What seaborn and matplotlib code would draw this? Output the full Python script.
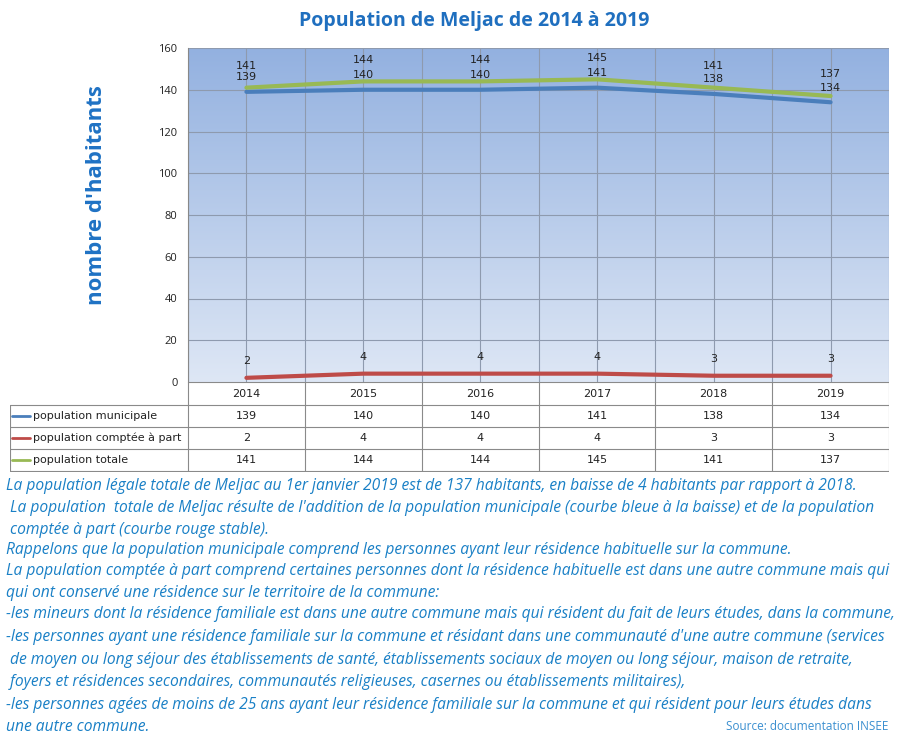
import numpy as np
import pandas as pd
import matplotlib
matplotlib.use('Agg')
import matplotlib.pyplot as plt
import seaborn as sns

# Data
years = ['2014', '2015', '2016', '2017', '2018', '2019']
pop_municipale = [139, 140, 140, 141, 138, 134]
pop_a_part = [2, 4, 4, 4, 3, 3]
pop_totale = [141, 144, 144, 145, 141, 137]
series_names = ['population municipale', 'population comptée à part', 'population totale']
series_colors = ['#4a7ebb', '#be4b48', '#98b954']
y_ticks = [0, 20, 40, 60, 80, 100, 120, 140, 160]

title = 'Population de Meljac de 2014 à 2019'
y_label = "nombre d'habitants"
notes = [
    "La population légale totale de Meljac au 1er janvier 2019 est de 137 habitants, en baisse de 4 habitants par rapport à 2018.",
    " La population  totale de Meljac résulte de l'addition de la population municipale (courbe bleue à la baisse) et de la population",
    " comptée à part (courbe rouge stable).",
    "Rappelons que la population municipale comprend les personnes ayant leur résidence habituelle sur la commune.",
    "La population comptée à part comprend certaines personnes dont la résidence habituelle est dans une autre commune mais qui",
    "qui ont conservé une résidence sur le territoire de la commune:",
    "-les mineurs dont la résidence familiale est dans une autre commune mais qui résident du fait de leurs études, dans la commune,",
    "-les personnes ayant une résidence familiale sur la commune et résidant dans une communauté d'une autre commune (services",
    " de moyen ou long séjour des établissements de santé, établissements sociaux de moyen ou long séjour, maison de retraite,",
    " foyers et résidences secondaires, communautés religieuses, casernes ou établissements militaires),",
    "-les personnes agées de moins de 25 ans ayant leur résidence familiale sur la commune et qui résident pour leurs études dans",
    "une autre commune.",
]
source = 'Source: documentation INSEE'

sns.set_style('white')
plt.rcParams['font.family'] = ['Open Sans', 'DejaVu Sans']

W, H = 900, 742
fig = plt.figure(figsize=(W / 100, H / 100), dpi=100)


def frac(x0, y0, x1, y1):
    # pixel box (top-left origin) -> figure fraction rect
    return [x0 / W, 1 - y1 / H, (x1 - x0) / W, (y1 - y0) / H]


# main plot area with the blue gradient background
ax = fig.add_axes(frac(188, 48, 889, 382))
grad = np.linspace(0, 1, 256).reshape(-1, 1)
top_c = np.array([0x93, 0xb1, 0xe0]) / 255
bot_c = np.array([0xde, 0xe7, 0xf5]) / 255
img = top_c * (1 - grad)[..., None] + bot_c * grad[..., None]
ax.imshow(img, extent=[-0.5, len(years) - 0.5, 0, 160], aspect='auto', zorder=0,
          origin='upper')

df = pd.DataFrame({
    'x': list(range(len(years))) * 3,
    'valeur': pop_municipale + pop_a_part + pop_totale,
    'serie': [s for s in series_names for _ in years],
})
sns.lineplot(data=df, x='x', y='valeur', hue='serie', hue_order=series_names,
             palette=series_colors, linewidth=3, legend=False, ax=ax, zorder=3)

# data labels (total a bit higher than municipal so they stack)
label_offsets = [10.5, 12, 15.5]
for vals, off in zip([pop_municipale, pop_a_part, pop_totale], label_offsets):
    for i, v in enumerate(vals):
        ax.annotate(str(v), (i, v), xytext=(0, off), textcoords='offset points',
                    ha='center', va='center', fontsize=8, color='#222222',
                    family='DejaVu Sans', zorder=4)

ax.set_xlim(-0.5, len(years) - 0.5)
ax.set_ylim(0, 160)
ax.set_yticks(y_ticks)
ax.set_xticks(np.arange(-0.5, len(years), 0.5))
ax.set_xticklabels([])
ax.tick_params(axis='x', length=0)
ax.tick_params(axis='y', length=4, color='#888888', labelsize=8, labelcolor='#222222')
ax.grid(True, color='#8e9aae', linewidth=0.8)
ax.set_axisbelow('line')
ax.set_xlabel('')
ax.set_ylabel('')
for side in ['top', 'right', 'bottom']:
    ax.spines[side].set_visible(False)
ax.spines['left'].set_color('#888888')
ax.spines['left'].set_linewidth(0.8)

# data table under the plot
tax = fig.add_axes(frac(10, 382, 889, 472))
tax.set_xlim(10, 889)
tax.set_ylim(472, 382)
tax.axis('off')
col_w = (889 - 188) / len(years)
edges = [188 + i * col_w for i in range(len(years) + 1)]
row_y = [382, 405, 427, 449, 471]
gcol = '#8a8a8a'
for yy in row_y[1:]:
    tax.plot([10, 889], [yy, yy], color=gcol, lw=0.8)
tax.plot([188, 889], [382, 382], color=gcol, lw=0.8)
tax.plot([10, 10], [405, 471], color=gcol, lw=0.8)
for xx in edges:
    tax.plot([xx, xx], [382, 471], color=gcol, lw=0.8)
for i, yr in enumerate(years):
    tax.text((edges[i] + edges[i + 1]) / 2, 394, yr, ha='center', va='center',
             fontsize=8, color='#222222', family='DejaVu Sans')
for r, (name, col, vals) in enumerate(zip(series_names, series_colors,
                                          [pop_municipale, pop_a_part, pop_totale])):
    cy = (row_y[r + 1] + row_y[r + 2]) / 2
    tax.plot([12, 30], [cy, cy], color=col, lw=2)
    tax.text(33, cy, name, ha='left', va='center', fontsize=8, color='#222222',
             family='DejaVu Sans')
    for i, v in enumerate(vals):
        tax.text((edges[i] + edges[i + 1]) / 2, cy, str(v), ha='center', va='center',
                 fontsize=8, color='#222222', family='DejaVu Sans')

# title and y label
fig.text(474 / W, 1 - 21 / H, title, ha='center', va='center', fontsize=14,
         fontweight='bold', color='#1f6fbf')
fig.text(97 / W, 1 - 195 / H, y_label, ha='center', va='center', rotation=90,
         fontsize=16, fontweight='bold', color='#1f72c4')

# notes block, fitted so the widest line spans the picture width
note_y = [486, 508, 530, 550, 571, 593, 614, 637, 660, 682, 705, 727]
texts = []
for line, yy in zip(notes, note_y):
    texts.append(fig.text(6 / W, 1 - yy / H, line, ha='left', va='center',
                          fontsize=10, style='italic', color='#1a80c6'))
fig.canvas.draw()
r = fig.canvas.get_renderer()
widest = max(t.get_window_extent(r).width for t in texts)
size = 10 * 888 / widest
for t in texts:
    t.set_fontsize(size)
fig.text(888 / W, 1 - 727 / H, source, ha='right', va='center', fontsize=8.5,
         color='#3a8fd0')

fig.savefig('out.png', dpi=100)
